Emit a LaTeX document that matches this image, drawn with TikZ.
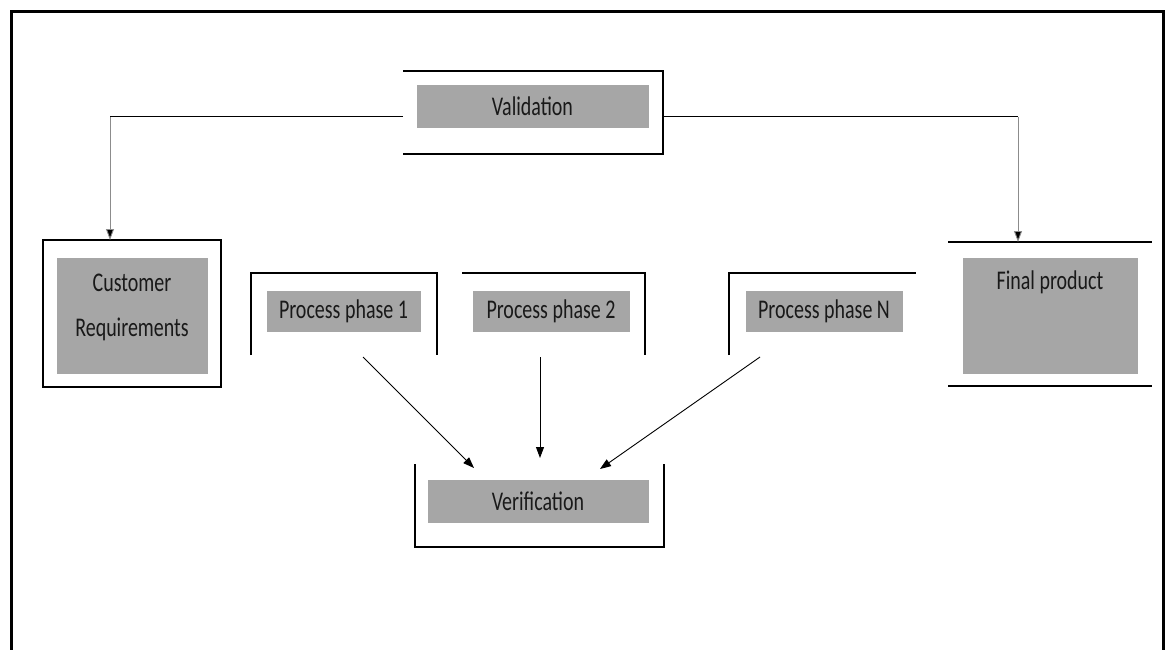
\documentclass[tikz,border=0pt]{standalone}
\usepackage{fontspec}
\setmainfont{Carlito}
\newfontfamily\condfont[FakeStretch=0.74]{Carlito}
\usetikzlibrary{arrows.meta}
\definecolor{boxgray}{HTML}{A6A6A6}
\tikzset{
  frame/.style={line width=1.6pt, draw=black},
  graybox/.style={fill=boxgray, draw=white, line width=0.6pt, inner sep=0pt, font=\condfont\fontsize{27}{45}\selectfont, text=black!90, align=center},
  lbl/.style={inner sep=0pt, font=\condfont\fontsize{27}{45}\selectfont, text=black!90, align=center},
  conn/.style={line width=0.9pt, -{Triangle[length=11pt,width=8pt]}},
  vconn/.style={line width=0.9pt, draw=black!45, -{Triangle[length=11pt,width=8pt,fill=black]}},
  link/.style={line width=1pt}
}
\begin{document}
\begin{tikzpicture}[x=1pt,y=-1pt]
\useasboundingbox (0,0) rectangle (1165,650);
% outer frame
\draw[line width=3pt] (11.5,652) -- (11.5,11.5) -- (1163,11.5) -- (1163,652);

% Validation
\node[graybox, minimum width=233pt, minimum height=44pt] (val) at (532.5,106) {Validation};
\draw[frame] (403,71) -- (663,71) -- (663,154) -- (403,154);
\coordinate (valL) at (403,117);
\coordinate (valR) at (663,117);

% Customer requirements
\node[graybox, minimum width=152pt, minimum height=117pt] (cust) at (132,315.5) {};
\node[lbl] (custt) at (132,307) {Customer\\Requirements};
\draw[frame] (43,240) rectangle (221,387);
\coordinate (custT) at (110,240);

% Final product
\node[graybox, minimum width=176pt, minimum height=117pt] (fin) at (1050,315.5) {};
\node[lbl] (fint) at (1050,282) {Final product};
\draw[frame] (948,242) -- (1152,242);
\draw[frame] (948,386) -- (1152,386);
\coordinate (finT) at (1018,242);

% Process phases
\node[graybox, minimum width=155pt, minimum height=42pt] (p1) at (343.5,311) {Process phase 1};
\draw[frame] (251,355) -- (251,273) -- (437,273) -- (437,355);
\node[graybox, minimum width=158pt, minimum height=42pt] (p2) at (551,311) {Process phase 2};
\draw[frame] (462,273) -- (645,273) -- (645,355);
\node[graybox, minimum width=158pt, minimum height=42pt] (pn) at (824,311) {Process phase N};
\draw[frame] (729,355) -- (729,273) -- (916,273);

% Verification
\node[graybox, minimum width=222pt, minimum height=44pt] (ver) at (538,501) {Verification};
\draw[frame] (415,464) -- (415,547) -- (664,547) -- (664,464);

% connectors from validation
\draw[link] (valL) -- (110,117);
\draw[vconn] (110,117) -- (custT);
\draw[link] (valR) -- (1018,117);
\draw[vconn] (1018,117) -- (finT);

% arrows to verification
\coordinate (a1) at (363,357);
\coordinate (a2) at (540,357);
\coordinate (a3) at (760,357);
\coordinate (v1) at (474,468);
\coordinate (v2) at (540,458);
\coordinate (v3) at (600,469);
\draw[conn] (a1) -- (v1);
\draw[conn] (a2) -- (v2);
\draw[conn] (a3) -- (v3);
\end{tikzpicture}
\end{document}
